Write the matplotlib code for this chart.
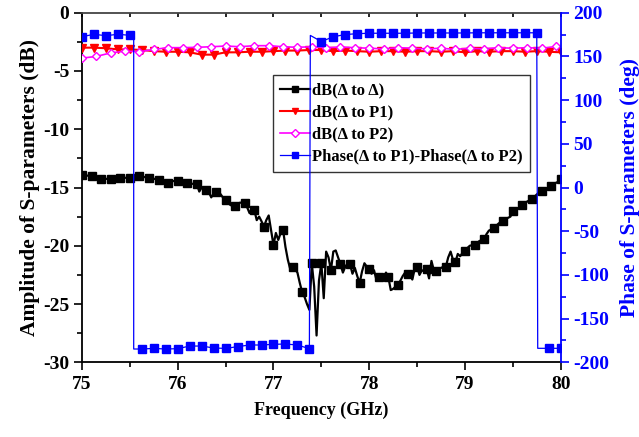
import numpy as np
import matplotlib
matplotlib.use("Agg")
import matplotlib.pyplot as plt
from matplotlib.lines import Line2D
from matplotlib.ticker import MultipleLocator

plt.rcParams['font.family'] = ['Liberation Serif', 'DejaVu Serif']
plt.rcParams['font.weight'] = 'bold'
plt.rcParams['axes.unicode_minus'] = False

# ---------------- data ----------------
# dB(Δ to Δ): fine grid 75..80 step 0.025 (markers every 0.1)
freq_dd = np.linspace(75.0, 80.0, 201)
db_dd = [
    -13.95, -13.97, -13.98, -13.99,
    -14.00, -14.10, -14.20, -14.22,
    -14.25, -14.27, -14.26, -14.25,
    -14.25, -14.22, -14.20, -14.18,
    -14.16, -14.16, -14.17, -14.16,
    -14.16, -14.10, -14.05, -14.03,
    -14.02, -14.05, -14.10, -14.13,
    -14.16, -14.20, -14.25, -14.30,
    -14.33, -14.40, -14.50, -14.55,
    -14.59, -14.55, -14.45, -14.42,
    -14.42, -14.45, -14.50, -14.55,
    -14.59, -14.62, -14.68, -14.70,
    -14.73, -15.35, -15.00, -15.10,
    -15.22, -15.40, -15.85, -15.50,
    -15.39, -15.40, -15.60, -15.90,
    -16.10, -16.30, -16.50, -16.60,
    -16.60, -16.45, -16.30, -16.30,
    -16.33, -16.70, -17.20, -16.80,
    -16.94, -17.80, -17.50, -17.90,
    -18.37, -17.80, -17.40, -18.70,
    -19.94, -18.90, -19.50, -18.90,
    -18.63, -20.10, -21.20, -22.00,
    -21.80, -22.00, -22.30, -23.20,
    -24.00, -24.40, -25.00, -25.50,
    -21.50, -23.50, -27.70, -23.00,
    -21.50, -24.50, -20.50, -21.00,
    -22.10, -20.50, -20.40, -21.00,
    -21.60, -22.30, -21.80, -21.50,
    -21.60, -22.40, -21.90, -22.60,
    -23.20, -22.20, -21.50, -21.80,
    -22.00, -22.40, -22.10, -22.90,
    -22.70, -22.50, -22.90, -22.30,
    -22.70, -23.80, -23.70, -23.50,
    -23.40, -23.00, -22.60, -22.30,
    -22.40, -22.30, -22.90, -22.00,
    -21.80, -22.50, -22.10, -22.20,
    -22.00, -22.80, -21.30, -22.10,
    -22.20, -22.00, -21.90, -21.80,
    -21.80, -21.00, -20.50, -21.20,
    -21.40, -20.70, -20.90, -20.60,
    -20.45, -20.20, -20.00, -19.95,
    -19.90, -19.80, -19.60, -19.50,
    -19.45, -19.00, -18.70, -18.60,
    -18.50, -18.30, -18.10, -17.95,
    -17.85, -17.70, -17.60, -17.50,
    -17.00, -16.90, -16.80, -16.70,
    -16.50, -16.40, -16.20, -16.10,
    -16.00, -15.80, -15.60, -15.40,
    -15.30, -15.20, -15.10, -15.00,
    -14.90, -14.80, -14.60, -14.50,
    -14.30,
]

# dB(Δ to P1): step 0.125
freq_p1 = np.linspace(75.0, 80.0, 41)
db_p1 = [
    -3.00, -3.00, -3.05, -3.15, -3.15, -3.20, -3.30, -3.35, -3.35, -3.40,
    -3.60, -3.60, -3.40, -3.40, -3.35, -3.35, -3.30, -3.25, -3.25, -3.20,
    -3.20, -3.30, -3.25, -3.30, -3.35, -3.30, -3.30, -3.35, -3.30, -3.30,
    -3.35, -3.30, -3.40, -3.30, -3.35, -3.30, -3.30, -3.35, -3.30, -3.35,
    -3.40,
]

# dB(Δ to P2): step 0.15
freq_p2 = np.linspace(75.0, 79.95, 34)
db_p2 = [
    -3.90, -3.75, -3.45, -3.30, -3.35, -3.15, -3.00, -3.00, -2.97, -2.92,
    -2.86, -2.92, -2.83, -2.83, -2.92, -2.97, -2.92, -3.00, -2.95, -3.00,
    -3.05, -3.10, -3.00, -3.05, -3.10, -3.05, -3.15, -3.05, -3.10, -3.00,
    -3.05, -3.00, -3.05, -2.90,
]

# Phase difference: markers every 0.125 GHz
freq_ph = np.linspace(75.0, 80.0, 41)
phase = [
    172.5, 175.3, 173.7, 175.3, 174.1,
    -184.8, -184.1, -184.8, -184.4, -181.4, -181.4, -183.6, -184.1, -182.1,
    -180.2, -180.2, -179.4, -179.1, -180.2, -184.4,
    167.0, 172.5, 175.0, 176.0, 176.5, 176.5, 176.5, 176.5, 176.8, 176.8,
    176.8, 176.8, 176.8, 177.0, 177.0, 177.0, 177.0, 177.0, 177.0,
    -184.0, -184.0,
]
# wrap-around jump points of the phase trace
jump_freq = [75.54, 75.54, 77.385, 79.76]
jump_phase = [174.1, -184.8, 174.0, -184.0]

labels = ['dB(Δ to Δ)', 'dB(Δ to P1)', 'dB(Δ to P2)',
          'Phase(Δ to P1)-Phase(Δ to P2)']

# ---------------- figure ----------------
fig = plt.figure(figsize=(6.39, 4.37), dpi=100)
ax = fig.add_axes([82/639, 1-362.3/437, (560.7-82)/639, (362.3-12.7)/437])
ax2 = ax.twinx()

ax.plot(freq_dd, db_dd, color='black', lw=1.6, marker='s', ms=5.8,
        markevery=4, zorder=3)
ax.plot(freq_p1, db_p1, color='red', lw=1.5, marker='v', ms=5.5, zorder=4)
ax.plot(freq_p2, db_p2, color='magenta', lw=1.2, marker='D', ms=4.5,
        mfc='white', mec='magenta', mew=1.0, zorder=5)

# phase line with jumps
pf = list(freq_ph)
pv = list(phase)
for f, v in zip(jump_freq, jump_phase):
    i = int(np.searchsorted(pf, f, side='right'))
    pf.insert(i, f)
    pv.insert(i, v)
ax2.plot(pf, pv, color='blue', lw=0.9, zorder=3)
ax2.plot(freq_ph, phase, color='blue', lw=0, marker='s', ms=5.8, zorder=4)

# axes
ax.set_xlim(75, 80)
ax.set_ylim(-30, 0)
ax2.set_ylim(-200, 200)
ax.xaxis.set_major_locator(MultipleLocator(1))
ax.xaxis.set_minor_locator(MultipleLocator(0.5))
ax.yaxis.set_major_locator(MultipleLocator(5))
ax.yaxis.set_minor_locator(MultipleLocator(2.5))
ax2.yaxis.set_major_locator(MultipleLocator(50))
ax2.yaxis.set_minor_locator(MultipleLocator(25))

ax.tick_params(axis='both', which='major', direction='out', length=6,
               width=1.2, labelsize=14, pad=3)
ax.tick_params(axis='both', which='minor', direction='out', length=3.5,
               width=1.2)
ax.tick_params(axis='x', which='both', top=True)
ax.tick_params(axis='x', which='major', pad=4)
ax2.tick_params(axis='y', which='major', direction='out', length=6,
                width=1.2, labelsize=14, colors='blue', pad=3)
ax2.tick_params(axis='y', which='minor', direction='out', length=3.5,
                width=1.2, colors='blue')
# top ticks inward, short
for t in ax.xaxis.get_major_ticks() + ax.xaxis.get_minor_ticks():
    t.tick2line.set_marker(3)  # TICKDOWN
    t.tick2line.set_markersize(3)

for lab in ax.get_xticklabels() + ax.get_yticklabels() + ax2.get_yticklabels():
    lab.set_fontweight('bold')

for s in ['left', 'bottom']:
    ax.spines[s].set_linewidth(1.3)
ax.spines['top'].set_linewidth(1.3)
ax.spines['top'].set_color('#444444')
ax.spines['right'].set_visible(False)
ax2.spines['right'].set_color('blue')
ax2.spines['right'].set_linewidth(1.3)
ax2.spines['left'].set_visible(False)
ax2.spines['top'].set_visible(False)
ax2.spines['bottom'].set_visible(False)

ax.set_xlabel('Frequency (GHz)', fontsize=13, fontweight='bold', labelpad=6)
ax.set_ylabel('Amplitude of S-parameters (dB)', fontsize=15.5,
              fontweight='bold', labelpad=2)
ax2.set_ylabel('Phase of S-parameters (deg)', fontsize=15.5,
               fontweight='bold', color='blue', labelpad=8)

handles = [
    Line2D([], [], color='black', lw=1.6, marker='s', ms=5),
    Line2D([], [], color='red', lw=1.5, marker='v', ms=5),
    Line2D([], [], color='magenta', lw=1.2, marker='D', ms=4, mfc='white',
           mec='magenta'),
    Line2D([], [], color='blue', lw=0.9, marker='s', ms=5),
]
leg = ax.legend(handles, labels, loc='upper left',
                bbox_to_anchor=((272.7-82)/478.7, (362.3-75)/349.6),
                borderaxespad=0, frameon=True, fancybox=False,
                edgecolor='#333333', framealpha=1,
                prop={'weight': 'bold', 'size': 12},
                handlelength=1.8, handletextpad=0.1, labelspacing=0.36,
                borderpad=0.45)
leg.get_frame().set_linewidth(1.0)

fig.savefig('out.png', dpi=100)
